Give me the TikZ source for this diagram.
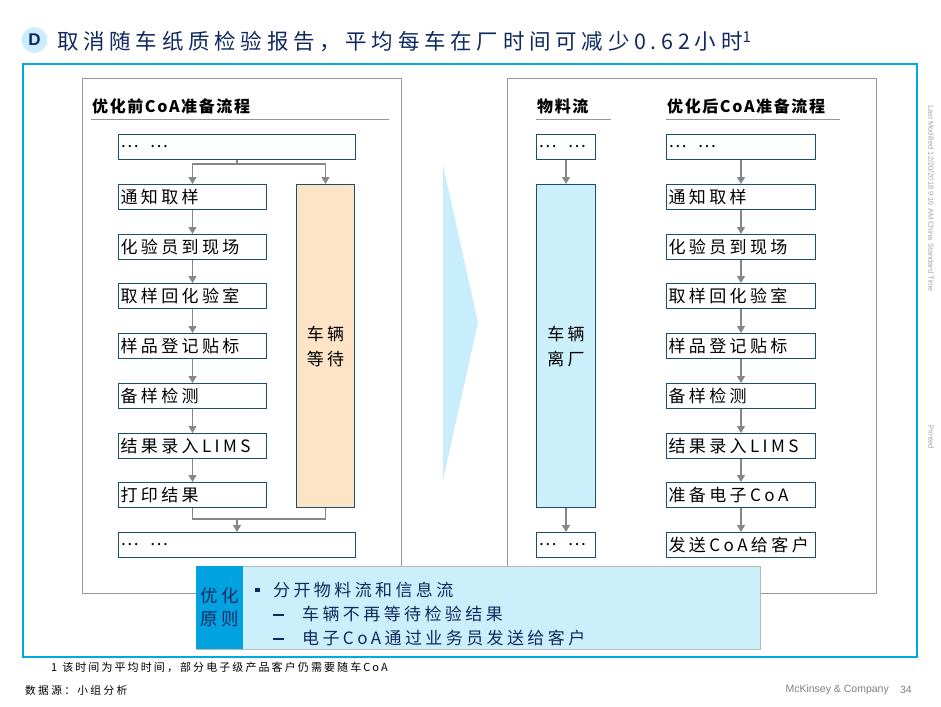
\documentclass[tikz,border=0pt]{standalone}
\usepackage{fontspec}
\setmainfont{Noto Sans CJK SC}
\newfontfamily\cjk{Noto Sans CJK SC}[LetterSpace=20]
\newfontfamily\cjkt{Noto Sans CJK SC}[LetterSpace=22]
\newfontfamily\cjkh{Noto Sans CJK SC}[LetterSpace=10]
\newfontfamily\cjkf{Noto Sans CJK SC}[LetterSpace=19]
\newfontfamily\lsans{Liberation Sans}
\usetikzlibrary{arrows.meta,calc}
\definecolor{frameblue}{RGB}{0,169,224}
\definecolor{navy}{RGB}{16,42,95}
\definecolor{dcirc}{RGB}{204,237,251}
\definecolor{boxc}{RGB}{28,78,110}
\definecolor{orangef}{RGB}{253,228,198}
\definecolor{cyanf}{RGB}{204,239,252}
\definecolor{chev}{RGB}{200,238,252}
\definecolor{tabblue}{RGB}{0,163,223}
\definecolor{panelgray}{RGB}{150,150,150}
\definecolor{arrgray}{RGB}{135,135,135}
\begin{document}
\begin{tikzpicture}[x=1pt,y=-1pt,
  pbox/.style={draw=boxc, line width=1pt, fill=white, minimum height=25pt,
    inner xsep=2pt, inner ysep=0pt, align=left, anchor=north west,
    font=\cjk\fontsize{17}{25}\selectfont},
  tall/.style={pbox, minimum height=323pt, align=center},
  hdr/.style={anchor=west, inner sep=0pt, font=\cjkh\fontsize{16}{16}\selectfont\bfseries},
  hline/.style={draw=panelgray, line width=1pt},
  gline/.style={draw=arrgray, line width=1.2pt},
  arr/.style={gline, -{Triangle[width=8pt,length=7pt]}},
  ptext/.style={anchor=west, inner sep=0pt, text=navy, font=\cjk\fontsize{17}{18}\selectfont},
  dashmark/.style={anchor=west, inner sep=0pt, text=navy},
]
\useasboundingbox (0,0) rectangle (941,706);
\fill[white] (0,0) rectangle (941,706);

% title
\node[circle, fill=dcirc, minimum size=26pt, inner sep=0pt, text=navy,
  font=\lsans\bfseries\fontsize{17}{17}\selectfont] (dc) at (34.5,40) {D};
\node[anchor=west, inner sep=0pt, text=navy, font=\cjkt\fontsize{21.5}{21.5}\selectfont]
  (title) at (57,42) {取消随车纸质检验报告，平均每车在厂时间可减少0.62小时\textsuperscript{1}};

% frame and panels
\draw[frameblue, line width=2.5pt] (23,64) rectangle (917,657);
\draw[panelgray, line width=1pt] (82,79) rectangle (401,593);
\draw[panelgray, line width=1pt] (507,79) rectangle (876,593);

% chevron
\fill[chev] (443,165) -- (478,322.5) -- (443,480) -- cycle;

% headers
\node[hdr] (h1) at (92,106) {优化前CoA准备流程};
\draw[hline] (91,119) -- (389,119);
\node[hdr] (h2) at (537,106) {物料流};
\draw[hline] (536,119) -- (611,119);
\node[hdr] (h3) at (667,106) {优化后CoA准备流程};
\draw[hline] (666,119) -- (840,119);

% left process
\node[pbox, text width=233pt] (l0) at (118,134) {…\ \ …};
\node[pbox, text width=144pt] (l1) at (118,184) {通知取样};
\node[pbox, text width=144pt] (l2) at (118,234) {化验员到现场};
\node[pbox, text width=144pt] (l3) at (118,283) {取样回化验室};
\node[pbox, text width=144pt] (l4) at (118,333) {样品登记贴标};
\node[pbox, text width=144pt] (l5) at (118,383) {备样检测};
\node[pbox, text width=144pt] (l6) at (118,433) {结果录入LIMS};
\node[pbox, text width=144pt] (l7) at (118,482) {打印结果};
\node[pbox, text width=233pt] (l8) at (118,532) {…\ \ …};
\node[tall, fill=orangef, text width=54pt] (wait) at (296,184) {车辆\\等待};

\draw[gline] (l0.south) -- ++(0,4) coordinate (sp);
\draw[arr] (sp) -| (l1.north);
\draw[arr] (sp) -| (wait.north);
\foreach \a/\b in {l1/l2,l2/l3,l3/l4,l4/l5,l5/l6,l6/l7} \draw[arr] (\a.south) -- (\b.north);
\coordinate (mj) at (l8.north |- 0,519);
\draw[gline] (l7.south) |- (mj);
\draw[gline] (wait.south) |- (mj);
\draw[arr] (mj) -- (l8.north);

% material flow
\node[pbox, text width=55pt] (m0) at (536,134) {…\ \ …};
\node[tall, fill=cyanf, text width=55pt] (m1) at (536,184) {车辆\\离厂};
\node[pbox, text width=55pt] (m2) at (536,532) {…\ \ …};
\draw[arr] (m0.south) -- (m1.north);
\draw[arr] (m1.south) -- (m2.north);

% right process
\node[pbox, text width=145pt] (r0) at (666,134) {…\ \ …};
\node[pbox, text width=145pt] (r1) at (666,184) {通知取样};
\node[pbox, text width=145pt] (r2) at (666,234) {化验员到现场};
\node[pbox, text width=145pt] (r3) at (666,283) {取样回化验室};
\node[pbox, text width=145pt] (r4) at (666,333) {样品登记贴标};
\node[pbox, text width=145pt] (r5) at (666,383) {备样检测};
\node[pbox, text width=145pt] (r6) at (666,433) {结果录入LIMS};
\node[pbox, text width=145pt] (r7) at (666,482) {准备电子CoA};
\node[pbox, text width=145pt] (r8) at (666,532) {发送CoA给客户};
\foreach \a/\b in {r0/r1,r1/r2,r2/r3,r3/r4,r4/r5,r5/r6,r6/r7,r7/r8} \draw[arr] (\a.south) -- (\b.north);

% principle box
\node[draw=gray!55, line width=0.8pt, fill=cyanf, minimum width=564pt, minimum height=83pt,
  anchor=north west, inner sep=0pt] (pr) at (196,566) {};
\node[fill=tabblue, minimum width=47pt, minimum height=83pt, anchor=north west, inner sep=0pt,
  align=center, text=navy, font=\cjk\fontsize{17.5}{23}\selectfont] (tab) at (196,566) {优化\\原则};
\fill[navy] (255,587.5) rectangle (259.5,592);
\node[ptext] (t1) at (273,590) {分开物料流和信息流};
\node[dashmark] (d2) at (273,615) {\rule{11pt}{2pt}};
\node[ptext] (t2) at (302,614) {车辆不再等待检验结果};
\node[dashmark] (d3) at (273,639) {\rule{11pt}{2pt}};
\node[ptext] (t3) at (302,638) {电子CoA通过业务员发送给客户};

% footer
\node[anchor=west, inner sep=0pt, font=\cjkf\fontsize{11}{11}\selectfont] (fn) at (51,667)
  {1\hspace{5pt}该时间为平均时间，部分电子级产品客户仍需要随车CoA};
\node[anchor=west, inner sep=0pt, font=\cjkt\fontsize{10.7}{11}\selectfont] (src) at (25,690) {数据源：小组分析};
\node[anchor=east, inner sep=0pt, text=gray, font=\lsans\fontsize{10.5}{10.5}\selectfont] (mck) at (889,690) {McKinsey \& Company};
\node[anchor=east, inner sep=0pt, text=gray, font=\lsans\fontsize{10.5}{10.5}\selectfont] (pg) at (912,690) {34};
\node[rotate=-90, anchor=west, inner sep=0pt, text=gray!70, font=\lsans\fontsize{7.5}{8}\selectfont] (lm) at (931,105)
  {Last Modified 12/20/2018 9:16 AM China Standard Time};
\node[rotate=-90, anchor=west, inner sep=0pt, text=gray!70, font=\lsans\fontsize{7.5}{8}\selectfont] (prt) at (931,425) {Printed};
\end{tikzpicture}
\end{document}
